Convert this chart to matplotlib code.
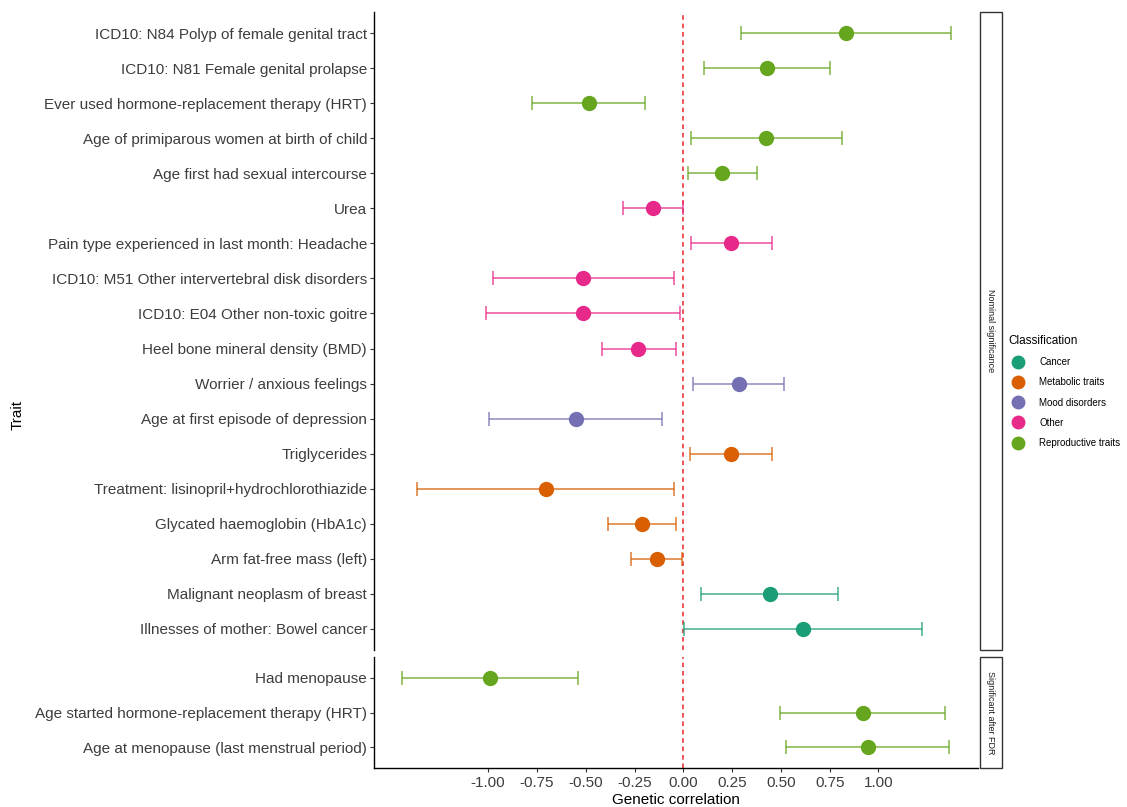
import numpy as np
import matplotlib.pyplot as plt
from matplotlib.lines import Line2D
from matplotlib.patches import Rectangle

plt.rcParams['font.family'] = ['Liberation Sans', 'DejaVu Sans']

# traits with nominal significance, listed top to bottom
nominal_traits = [
    'ICD10: N84 Polyp of female genital tract',
    'ICD10: N81 Female genital prolapse',
    'Ever used hormone-replacement therapy (HRT)',
    'Age of primiparous women at birth of child',
    'Age first had sexual intercourse',
    'Urea',
    'Pain type experienced in last month: Headache',
    'ICD10: M51 Other intervertebral disk disorders',
    'ICD10: E04 Other non-toxic goitre',
    'Heel bone mineral density (BMD)',
    'Worrier / anxious feelings',
    'Age at first episode of depression',
    'Triglycerides',
    'Treatment: lisinopril+hydrochlorothiazide',
    'Glycated haemoglobin (HbA1c)',
    'Arm fat-free mass (left)',
    'Malignant neoplasm of breast',
    'Illnesses of mother: Bowel cancer',
]
nominal_class = [
    'Reproductive traits', 'Reproductive traits', 'Reproductive traits',
    'Reproductive traits', 'Reproductive traits',
    'Other', 'Other', 'Other', 'Other', 'Other',
    'Mood disorders', 'Mood disorders',
    'Metabolic traits', 'Metabolic traits', 'Metabolic traits', 'Metabolic traits',
    'Cancer', 'Cancer',
]
nominal_rg = [0.835, 0.429, -0.484, 0.425, 0.200, -0.157, 0.244, -0.512, -0.514,
              -0.230, 0.284, -0.550, 0.246, -0.706, -0.210, -0.137, 0.442, 0.613]
nominal_lo = [0.296, 0.105, -0.774, 0.038, 0.022, -0.308, 0.038, -0.974, -1.012,
              -0.417, 0.052, -0.994, 0.036, -1.365, -0.385, -0.266, 0.091, 0.006]
nominal_hi = [1.371, 0.750, -0.196, 0.812, 0.379, -0.004, 0.452, -0.050, -0.018,
              -0.040, 0.518, -0.107, 0.456, -0.046, -0.038, -0.008, 0.792, 1.222]

# traits significant after FDR correction
fdr_traits = [
    'Had menopause',
    'Age started hormone-replacement therapy (HRT)',
    'Age at menopause (last menstrual period)',
]
fdr_class = ['Reproductive traits', 'Reproductive traits', 'Reproductive traits']
fdr_rg = [-0.990, 0.919, 0.948]
fdr_lo = [-1.444, 0.494, 0.526]
fdr_hi = [-0.540, 1.341, 1.363]

classes = ['Cancer', 'Metabolic traits', 'Mood disorders', 'Other', 'Reproductive traits']
palette = ['#1B9E77', '#D95F02', '#7570B3', '#E7298A', '#66A61E']
colour_of = dict(zip(classes, palette))

xticks = [-1.0, -0.75, -0.5, -0.25, 0.0, 0.25, 0.5, 0.75, 1.0]
xlim = (-1.585, 1.51)
text_grey = '#3d3d3d'

W, H = 1127, 807
fig = plt.figure(figsize=(W / 100, H / 100), dpi=100)


def fx(px):
    return px / W


def fy(py):
    return 1 - py / H


def panel(top, bottom, traits, cls, rg, lo, hi, strip_label, show_x):
    ax = fig.add_axes([fx(374), fy(bottom), fx(978) - fx(374), fy(top) - fy(bottom)])
    n = len(traits)
    ypos = np.arange(n)[::-1]
    rg = np.array(rg)
    lo = np.array(lo)
    hi = np.array(hi)
    for y, c, r, l, h in zip(ypos, cls, rg, lo, hi):
        col = colour_of[c]
        ax.errorbar([r], [y], xerr=[[r - l], [h - r]], fmt='none', ecolor=col,
                    alpha=0.65, capsize=5, elinewidth=1.4, capthick=1.4)
        ax.plot([r], [y], 'o', ms=10, color=col, zorder=3)
    ax.axvline(0, color='#e8262a', ls=(0, (3, 2.5)), lw=1.1, zorder=1)
    ax.set_xlim(*xlim)
    ax.set_ylim(-0.6, n - 1 + 0.6)
    ax.set_yticks(ypos)
    ax.set_yticklabels(traits, fontsize=11, color=text_grey)
    for s in ['top', 'right']:
        ax.spines[s].set_visible(False)
    ax.spines['left'].set_linewidth(1.0)
    ax.tick_params(axis='y', length=3, width=0.8, color='#333333', pad=2)
    if show_x:
        ax.set_xticks(xticks)
        ax.set_xticklabels(['%.2f' % t for t in xticks], fontsize=11, color=text_grey)
        ax.tick_params(axis='x', length=3, width=0.8, color='#333333', pad=3)
        ax.spines['bottom'].set_linewidth(1.0)
        ax.set_xlabel('Genetic correlation', fontsize=11, labelpad=2)
    else:
        ax.set_xticks([])
        ax.spines['bottom'].set_visible(False)
    # facet strip on the right side
    fig.patches.append(Rectangle((fx(980), fy(bottom)), fx(1002) - fx(980), fy(top) - fy(bottom),
                                 transform=fig.transFigure, facecolor='white',
                                 edgecolor='#333333', lw=1.0))
    fig.text(fx(991), (fy(top) + fy(bottom)) / 2, strip_label, rotation=-90,
             ha='center', va='center', fontsize=6.5, color='#1a1a1a')
    return ax


panel(12, 650, nominal_traits, nominal_class, nominal_rg, nominal_lo, nominal_hi,
      'Nominal significance', False)
panel(657, 768, fdr_traits, fdr_class, fdr_rg, fdr_lo, fdr_hi,
      'Significant after FDR', True)

fig.text(fx(18), fy(415), 'Trait', rotation=90, ha='center', va='center', fontsize=11)

handles = [Line2D([], [], ls='none', marker='o', ms=9, color=c) for c in palette]
leg = fig.legend(handles, classes, title='Classification', loc='upper left',
                 bbox_to_anchor=(fx(1004), fy(331)), frameon=False, fontsize=7,
                 title_fontsize=8.5, handletextpad=1.2, labelspacing=1.05,
                 borderaxespad=0)
leg._legend_box.align = 'left'

fig.savefig('out.png', dpi=100)
